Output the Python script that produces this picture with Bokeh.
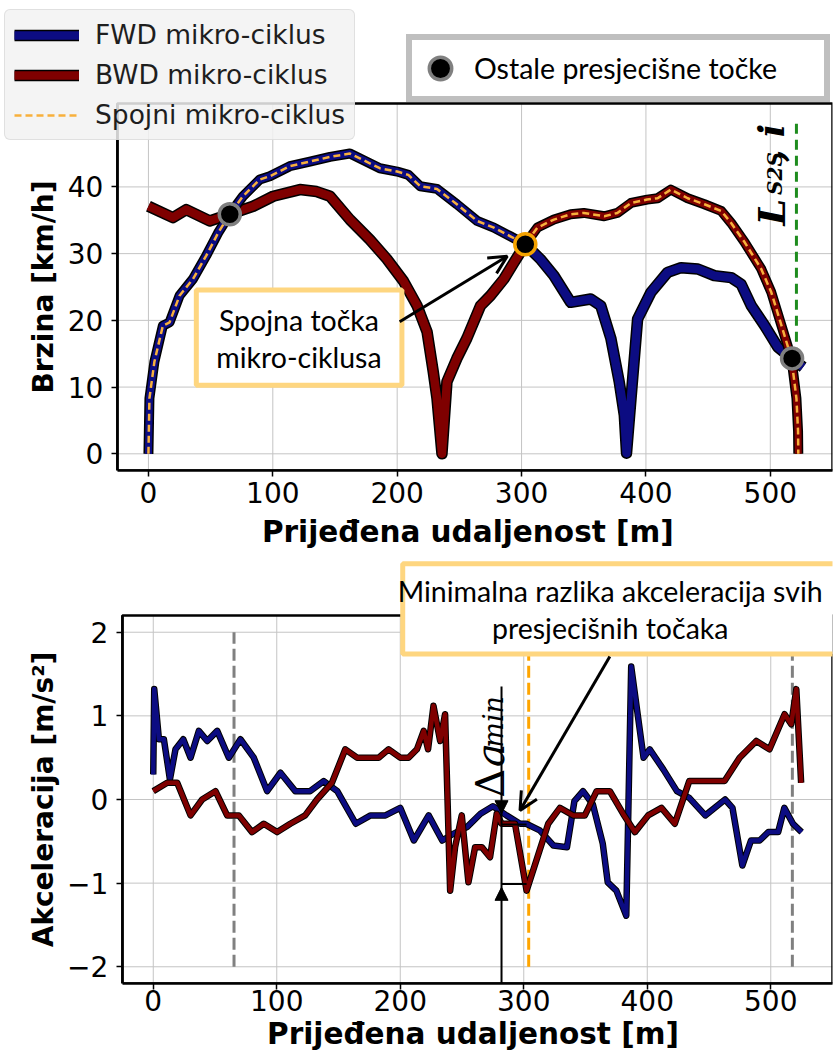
import numpy as np
from bokeh.plotting import figure
from bokeh.models import (Range1d, FixedTicker, Legend, LegendItem, Label, BoxAnnotation,
                          Arrow, OpenHead, NormalHead)
from bokeh.layouts import column
from bokeh.embed import file_html
from bokeh.resources import INLINE

# ---------------- data: speed (top chart) ----------------
fwd_dist = [0, 0.8, 4.8, 11.6, 17, 25, 35.8, 46.5, 56, 65.3, 76, 89.5, 97.6, 113.7, 129.8, 146,
            162, 173, 186, 200, 209, 218.5, 232, 248, 264.3, 277.7, 291, 303, 315, 326, 339.5,
            355.6, 363.7, 371.8, 378.5, 382.6, 384.4, 388, 393.3, 404, 417.5, 428.2, 441.7, 455,
            468.5, 476.6, 484.7, 495.5, 506, 517, 526.4]
fwd_speed = [0, 8.3, 13.8, 19.2, 19.7, 23.7, 26.2, 29.7, 33.1, 35.9, 38.6, 41.1, 41.6, 43.1, 43.8,
             44.5, 45.0, 44.0, 42.8, 42.3, 41.8, 40.1, 39.7, 37.4, 34.9, 33.9, 32.6, 31.4, 29.2,
             26.7, 22.7, 23.2, 22.2, 17.3, 10.8, 5.8, 0.1, 8.3, 20.2, 24.2, 27.2, 27.9, 27.7, 26.7,
             26.4, 25.4, 22.2, 19.2, 16.0, 14.3, 13.0]
bwd_dist = [0, 19.7, 30.4, 49.2, 65.3, 84.2, 100.3, 121.8, 135.2, 146, 162, 178, 191.7, 205, 216,
            224, 229, 232, 236, 240, 248, 256, 267, 275, 285.8, 294, 303, 312.7, 326, 339.5, 350,
            366.5, 377, 388, 401, 409.4, 420, 433.6, 447, 460.5, 468.5, 479.4, 492.7, 500.8, 509,
            517, 521, 522.3, 522.5]
bwd_speed = [37.1, 35.4, 36.6, 34.9, 35.9, 37.1, 38.6, 39.6, 39.3, 38.6, 35.1, 32.1, 29.2, 25.9,
             22.2, 18.3, 12.3, 8.3, 0, 10.8, 14.3, 17.3, 22.2, 23.7, 26.2, 28.7, 31.4, 33.9, 35.1,
             35.9, 36.1, 35.6, 36.1, 37.6, 38.1, 38.3, 39.6, 38.3, 37.4, 36.4, 34.6, 31.7, 27.7,
             24.2, 19.2, 14.3, 8.3, 3.4, 0]

# ---------------- data: acceleration (bottom chart) ----------------
fwd_acc_dist = [0.0, 0.8, 4.6, 8.6, 13.5, 18.0, 24.3, 30.2, 36.9, 43.7, 51.8, 61.2, 70.6, 81.4,
                92.2, 103.0, 115.0, 127.0, 138.0, 149.0, 164.0, 176.0, 188.0, 200.0, 211.0, 223.0,
                234.0, 243.0, 254.0, 265.0, 275.0, 286.0, 297.0, 302.0, 313.0, 324.0, 335.0, 341.0,
                348.0, 356.0, 364.0, 368.0, 375.0, 383.0, 387.0, 397.0, 402.0, 413.0, 424.0, 434.0,
                447.0, 463.0, 469.0, 477.0, 484.0, 491.0, 498.0, 506.0, 511.0, 518.0, 525.0]
fwd_acc = [0.30, 1.32, 0.72, 0.72, 0.24, 0.60, 0.72, 0.50, 0.82, 0.70, 0.82, 0.50, 0.72, 0.50,
           0.10, 0.32, 0.10, 0.10, 0.22, 0.10, -0.29, -0.19, -0.19, -0.10, -0.49, -0.19, -0.49,
           -0.41, -0.33, -0.17, -0.08, -0.19, -0.29, -0.29, -0.37, -0.55, -0.57, -0.02, 0.10,
           -0.06, -0.53, -0.99, -1.09, -1.39, 1.59, 0.50, 0.60, 0.36, 0.10, 0.02, -0.19, 0.00,
           -0.10, -0.79, -0.49, -0.49, -0.39, -0.39, -0.10, -0.29, -0.39]
bwd_acc_dist = [0, 11.3, 19.4, 30.2, 39.6, 50.4, 59.8, 69.3, 80, 89.5, 100.3, 111, 123, 132.6,
                144.7, 155.5, 165, 182.5, 190.6, 200, 206.7, 213.5, 219, 222.5, 226.9, 232.3,
                236.3, 240.4, 244.4, 249.8, 255.2, 260.6, 266, 272.7, 278.1, 282.1, 292.9, 302.3,
                319.8, 329.3, 340, 349.5, 359, 369.7, 380.4, 390, 400.7, 411.5, 422.3, 434, 450.6,
                462.6, 474.8, 488.3, 499, 511.2, 516.6, 520.7, 524.6]
bwd_acc = [0.10, 0.20, 0.20, -0.19, 0.00, 0.10, -0.19, -0.19, -0.39, -0.29, -0.39, -0.29, -0.19,
           0.00, 0.20, 0.60, 0.50, 0.50, 0.60, 0.50, 0.50, 0.60, 0.82, 0.60, 1.12, 0.70, 1.02,
           -1.09, -0.57, -0.19, -0.99, -0.57, -0.57, -0.69, -0.17, -0.29, -0.29, -1.09, -0.29,
           -0.10, -0.19, -0.19, 0.10, 0.10, -0.17, -0.39, -0.19, -0.10, -0.29, 0.22, 0.22, 0.22,
           0.50, 0.70, 0.60, 1.02, 0.90, 1.32, 0.20]

# ---------------- special points ----------------
other_cross_dist = [65.4, 517.5]
other_cross_speed = [35.9, 14.3]
join_dist = 303.0
join_speed = 31.4
l_s2s_dist = 521.0
da_dist = 282.0
da_upper = -0.17
da_mid = -0.30
da_lower = -1.05
da_lower_line = -1.01

x_ticks = [0, 100, 200, 300, 400, 500]
v_ticks = [0, 10, 20, 30, 40]
a_ticks = [-2, -1, 0, 1, 2]

X_LO, X_HI = -25, 550
V_LO, V_HI = -2.5, 52.5
A_LO, A_HI = -2.2, 2.2

BLUE = "#0c0c82"
RED = "#7f0000"
ORANGE_DASH = "#f7b03c"
BOX_EDGE = "#fed680"
GRID = "#c4c4c4"
NOTE_FONT = "28.5px"
XLABEL_PX = 29.5
FR_L = 6          # left side panel of both figures = y tick length only
FIG_W = 838
BOX_R = 832       # right edge of both plotting boxes

fx, fv = np.array(fwd_dist), np.array(fwd_speed)
bx, bv = np.array(bwd_dist), np.array(bwd_speed)


def make_fig(height, box_l, box_t, box_b, y_lo, y_hi, y_ticks, min_bottom):
    px_per_x = (BOX_R - box_l) / (X_HI - X_LO)
    px_per_y = (box_b - box_t) / (y_hi - y_lo)
    p = figure(width=FIG_W, height=height,
               x_range=Range1d(X_LO - (box_l - FR_L) / px_per_x, X_HI),
               y_range=Range1d(y_lo, y_hi + box_t / px_per_y),
               output_backend="svg", toolbar_location=None,
               min_border_left=0, min_border_right=FIG_W - BOX_R, min_border_top=0,
               min_border_bottom=min_bottom)
    p.background_fill_color = "white"
    p.border_fill_color = "white"
    p.outline_line_color = None
    p.grid.visible = False
    for ax in (p.xaxis[0], p.yaxis[0]):
        ax.axis_line_color = "black"
        ax.axis_line_width = 2.5
        ax.major_tick_line_color = "black"
        ax.major_tick_line_width = 1.5
        ax.major_tick_out = 6
        ax.major_tick_in = 0
        ax.minor_tick_out = 0
        ax.minor_tick_in = 0
        ax.major_label_text_font = "DejaVu Sans"
        ax.major_label_text_font_size = "28px"
        ax.major_label_text_color = "black"
        ax.axis_label_text_font = "DejaVu Sans"
        ax.axis_label_text_font_style = "bold"
        ax.axis_label_text_font_size = f"{XLABEL_PX}px"
        ax.axis_label_text_color = "black"
    p.xaxis.ticker = FixedTicker(ticks=x_ticks)
    p.yaxis.ticker = FixedTicker(ticks=y_ticks)
    p.xaxis.bounds = (X_LO, X_HI)
    p.yaxis.bounds = (y_lo, y_hi)
    p.yaxis.fixed_location = X_LO
    p.yaxis.major_label_overrides = {t: "" for t in y_ticks}
    p.yaxis.major_label_standoff = 0
    p.yaxis.axis_label = None
    # x title centred under the plotting box (the frame is wider on the left)
    shift = ((box_l + BOX_R) / 2 - 5) - (FR_L + BOX_R) / 2
    n_pad = int(round(2 * shift / (0.348 * XLABEL_PX)))
    p.xaxis.axis_label = "\u00a0" * n_pad + "Prijeđena udaljenost [m]"
    # grid lines inside the plotting box
    p.segment(x0=x_ticks, y0=[y_lo] * len(x_ticks), x1=x_ticks, y1=[y_hi] * len(x_ticks),
              line_color=GRID, line_width=1)
    p.segment(x0=[X_LO] * len(y_ticks), y0=y_ticks, x1=[X_HI] * len(y_ticks), y1=y_ticks,
              line_color=GRID, line_width=1)
    return p


def y_labels(p, y_ticks, title, y_mid, title_off):
    for t in y_ticks:
        p.add_layout(Label(x=X_LO, y=t, x_offset=-14, text=str(t).replace("-", "−"),
                           text_align="right", text_baseline="middle", text_font="DejaVu Sans",
                           text_font_size="28px", text_color="black"))
    p.add_layout(Label(x=X_LO, y=y_mid, x_offset=title_off, text=title, angle=np.pi / 2,
                       text_align="center", text_baseline="bottom", text_font="DejaVu Sans",
                       text_font_style="bold", text_font_size="28px", text_color="black"))


def frame_box(p, y_lo, y_hi):
    p.add_layout(BoxAnnotation(left=X_LO, right=X_HI, bottom=y_lo, top=y_hi, fill_alpha=0,
                               line_color="black", line_width=2.5, line_alpha=1))


# ================= TOP CHART =================
TB_L, TB_T, TB_B = 122, 103, 470
p1 = make_fig(555, TB_L, TB_T, TB_B, V_LO, V_HI, v_ticks, 85)
p1.xaxis.major_label_standoff = 5
p1.xaxis.axis_label_standoff = 9
y_labels(p1, v_ticks, "Brzina [km/h]", (V_LO + V_HI) / 2, -57)

p1.segment(x0=[l_s2s_dist], y0=[0], x1=[l_s2s_dist], y1=[50], line_color="#1e8c1e",
           line_width=3, line_dash="10 6")

fb = fx >= join_dist
fs = fx <= join_dist
bb = bx <= join_dist
bs = bx >= join_dist

bwd_k = p1.line(bx[bb], bv[bb], line_color="black", line_width=11.5, line_join="round")
bwd_c = p1.line(bx[bb], bv[bb], line_color=RED, line_width=8.5, line_join="round")
fwd_k = p1.line(fx[fb], fv[fb], line_color="black", line_width=11.5, line_join="round")
fwd_c = p1.line(fx[fb], fv[fb], line_color=BLUE, line_width=8.5, line_join="round")
p1.line(fx[fs], fv[fs], line_color="black", line_width=10, line_join="round")
p1.line(fx[fs], fv[fs], line_color=BLUE, line_width=7, line_join="round")
p1.line(bx[bs], bv[bs], line_color="black", line_width=10, line_join="round")
p1.line(bx[bs], bv[bs], line_color=RED, line_width=7, line_join="round")
jx = np.concatenate([fx[fs], bx[bx > join_dist]])
jv = np.concatenate([fv[fs], bv[bx > join_dist]])
join_r = p1.line(jx, jv, line_color=ORANGE_DASH, line_width=2.5, line_dash="7 4")

cross_r = p1.scatter(other_cross_dist, other_cross_speed, size=21, fill_color="black",
                     line_color="#808080", line_width=3.5)
p1.scatter([join_dist], [join_speed], size=21, fill_color="black", line_color="#f5a300",
           line_width=3.5)

frame_box(p1, V_LO, V_HI)

# legend location = bottom-left corner, measured from the frame's bottom-left
leg1 = Legend(items=[LegendItem(label="FWD mikro-ciklus", renderers=[fwd_k, fwd_c]),
                     LegendItem(label="BWD mikro-ciklus", renderers=[bwd_k, bwd_c]),
                     LegendItem(label="Spojni mikro-ciklus", renderers=[join_r])],
              location=(10 - FR_L, TB_B - 140), background_fill_color="#f2f2f2",
              background_fill_alpha=0.85,
              border_line_color="#cccccc", border_line_width=1.5, border_radius=6,
              label_text_font="DejaVu Sans", label_text_font_size="26.5px",
              label_text_color="#1e1e1e", glyph_width=65, glyph_height=20, label_standoff=16,
              spacing=9, padding=9, margin=0, label_width=250)
p1.add_layout(leg1, "center")

leg2 = Legend(items=[LegendItem(label="Ostale presjecišne točke", renderers=[cross_r])],
              location=(412 - FR_L, TB_B - 102), background_fill_color="white",
              background_fill_alpha=1,
              border_line_color="#808080", border_line_width=6, border_radius=0,
              label_text_font="Lato", label_text_font_size=NOTE_FONT, label_text_color="black",
              glyph_width=56, glyph_height=56, label_standoff=6, padding=0, margin=0,
              label_width=350)
p1.add_layout(leg2, "center")

p1.add_layout(BoxAnnotation(left=38.5, right=203.8, bottom=10.27, top=24.55, fill_color="white",
                            fill_alpha=1, line_color=BOX_EDGE, line_width=5, line_alpha=1))
for txt, yy in (("Spojna točka", 20.0), ("mikro-ciklusa", 14.5)):
    p1.add_layout(Label(x=121, y=yy, text=txt, text_align="center", text_baseline="middle",
                        text_font="Lato", text_font_size=NOTE_FONT, text_color="black"))
p1.add_layout(Arrow(x_start=202, y_start=19.8, x_end=288.5, y_end=29.6, line_width=3,
                    line_color="black", end=OpenHead(size=18, line_width=3, line_color="black")))

for txt, xx, yy, fs_ in (("L", 500.6, 34.2, "38px"), ("S2S", 504.0, 38.8, "20px"),
                         (", i", 500.6, 43.8, "35px")):
    p1.add_layout(Label(x=xx, y=yy, text=txt, angle=np.pi / 2, text_align="left",
                        text_baseline="alphabetic", text_font="DejaVu Serif",
                        text_font_style="bold italic", text_font_size=fs_, text_color="black"))

# ================= BOTTOM CHART =================
# page y 555..1055; plotting box at page y 615..983 -> figure y 60..428
BB_L, BB_T, BB_B = 127, 60, 428
p2 = make_fig(500, BB_L, BB_T, BB_B, A_LO, A_HI, a_ticks, 72)
p2.xaxis.major_label_standoff = 0
p2.xaxis.axis_label_standoff = 3
y_labels(p2, a_ticks, "Akceleracija [m/s²]", 0, -62)

p2.segment(x0=other_cross_dist, y0=[-2, -2], x1=other_cross_dist, y1=[2, 2], line_color="#808080",
           line_width=3, line_dash="12 5")
p2.segment(x0=[join_dist + 1], y0=[-2], x1=[join_dist + 1], y1=[2], line_color="#ffa500",
           line_width=3, line_dash="12 5")

p2.line(fwd_acc_dist, fwd_acc, line_color="black", line_width=6.5, line_join="round")
p2.line(fwd_acc_dist, fwd_acc, line_color=BLUE, line_width=4.5, line_join="round")
p2.line(bwd_acc_dist, bwd_acc, line_color="black", line_width=6.5, line_join="round")
p2.line(bwd_acc_dist, bwd_acc, line_color=RED, line_width=4.5, line_join="round")

# delta a_min marker
p2.segment(x0=[da_dist], y0=[1.35], x1=[da_dist], y1=[A_LO], line_color="black", line_width=2)
p2.segment(x0=[da_dist, da_dist], y0=[da_mid, da_lower_line], x1=[302.3, 302.3],
           y1=[da_mid, da_lower_line], line_color="black", line_width=2)
p2.add_layout(Arrow(x_start=da_dist, y_start=0.3, x_end=da_dist, y_end=da_upper, line_alpha=0,
                    end=NormalHead(size=13, fill_color="black", line_color="black")))
p2.add_layout(Arrow(x_start=da_dist, y_start=-1.7, x_end=da_dist, y_end=da_lower, line_alpha=0,
                    end=NormalHead(size=13, fill_color="black", line_color="black")))
p2.add_layout(Label(x=272.4, y=0.02, text="Δ", angle=np.pi / 2, text_align="left",
                    text_baseline="alphabetic", text_font="DejaVu Serif", text_font_size="40px",
                    text_color="black"))
p2.add_layout(Label(x=272.4, y=0.39, text="a", angle=np.pi / 2, text_align="left",
                    text_baseline="alphabetic", text_font="DejaVu Serif",
                    text_font_style="italic", text_font_size="40px", text_color="black"))
p2.add_layout(Label(x=275.7, y=0.62, text="min", angle=np.pi / 2, text_align="left",
                    text_baseline="alphabetic", text_font="DejaVu Serif",
                    text_font_style="italic", text_font_size="27px", text_color="black"))

frame_box(p2, A_LO, A_HI)

p2.add_layout(BoxAnnotation(left=202, right=600, bottom=1.74, top=2.82, fill_color="white",
                            fill_alpha=1, line_color=BOX_EDGE, line_width=5, line_alpha=1))
for txt, yy in (("Minimalna razlika akceleracija svih", 2.49), ("presjecišnih točaka", 2.05)):
    p2.add_layout(Label(x=370, y=yy, text=txt, text_align="center", text_baseline="middle",
                        text_font="Lato", text_font_size=NOTE_FONT, text_color="black"))
p2.add_layout(Arrow(x_start=369.7, y_start=1.71, x_end=297, y_end=-0.13, line_width=3,
                    line_color="black", end=OpenHead(size=18, line_width=3, line_color="black")))

layout = column(p1, p2, spacing=0)
open("out.html", "w").write(file_html(layout, INLINE))
